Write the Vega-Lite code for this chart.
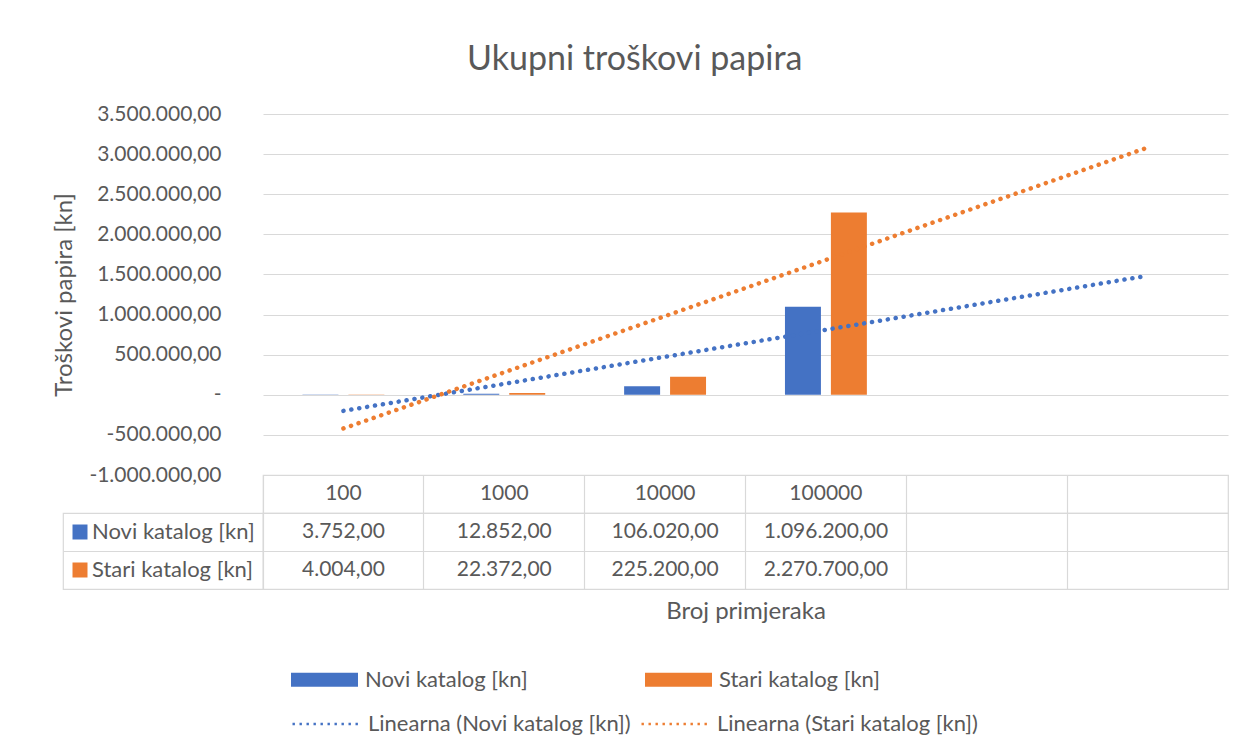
{
  "$schema": "https://vega.github.io/schema/vega-lite/v6.json",
  "background": "white",
  "padding": {"left": 52, "top": 43, "right": 17, "bottom": 5},
  "autosize": {"type": "pad"},
  "title": {"text": "Ukupni troškovi papira", "fontSize": 34, "fontWeight": "normal", "color": "#595959", "anchor": "middle", "frame": "bounds", "dx": -6, "offset": 26},
  "config": {
    "font": "Lato",
    "view": {"stroke": null},
    "locale": {"number": {"decimal": ",", "thousands": ".", "grouping": [3], "currency": ["", ""], "minus": "-"}}
  },
  "datasets": {
    "troskovi": [
      {"primjeraka": "100", "serija": "Novi katalog [kn]", "kn": 3752},
      {"primjeraka": "1000", "serija": "Novi katalog [kn]", "kn": 12852},
      {"primjeraka": "10000", "serija": "Novi katalog [kn]", "kn": 106020},
      {"primjeraka": "100000", "serija": "Novi katalog [kn]", "kn": 1096200},
      {"primjeraka": "100", "serija": "Stari katalog [kn]", "kn": 4004},
      {"primjeraka": "1000", "serija": "Stari katalog [kn]", "kn": 22372},
      {"primjeraka": "10000", "serija": "Stari katalog [kn]", "kn": 225200},
      {"primjeraka": "100000", "serija": "Stari katalog [kn]", "kn": 2270700}
    ],
    "trend": [
      {"primjeraka": "100", "serija": "Linearna (Novi katalog [kn])", "kn": -200871},
      {"primjeraka": "  ", "serija": "Linearna (Novi katalog [kn])", "kn": 1484385},
      {"primjeraka": "100", "serija": "Linearna (Stari katalog [kn])", "kn": -419868},
      {"primjeraka": "  ", "serija": "Linearna (Stari katalog [kn])", "kn": 3081590}
    ],
    "kategorije": [
      {"primjeraka": "100"},
      {"primjeraka": "1000"},
      {"primjeraka": "10000"},
      {"primjeraka": "100000"}
    ],
    "serije": [
      {"serija": "Novi katalog [kn]"},
      {"serija": "Stari katalog [kn]"}
    ]
  },
  "columns": 2,
  "spacing": 0,
  "bounds": "flush",
  "align": "each",
  "concat": [
    {
      "width": 200,
      "height": 361,
      "data": {"name": "kategorije"},
      "mark": {"type": "text", "text": ""}
    },
    {
      "width": 965,
      "height": 361,
      "layer": [
        {
          "data": {"name": "troskovi"},
          "mark": {"type": "bar"},
          "encoding": {
            "x": {"field": "primjeraka", "type": "nominal", "scale": {"type": "band", "domain": ["100", "1000", "10000", "100000", " ", "  "], "paddingInner": 0, "paddingOuter": 0}, "axis": null},
            "xOffset": {"field": "serija", "type": "nominal", "scale": {"type": "band", "domain": ["Novi katalog [kn]", "Stari katalog [kn]"], "paddingInner": 0.217, "paddingOuter": 0.859}},
            "y": {
              "field": "kn", "type": "quantitative",
              "scale": {"domain": [-1000000, 3500000], "nice": false, "zero": false},
              "axis": {
                "values": [-1000000, -500000, 0, 500000, 1000000, 1500000, 2000000, 2500000, 3000000, 3500000],
                "format": ",.2f",
                "labelExpr": "datum.value === 0 ? '-\u00a0\u00a0\u00a0' : datum.label",
                "title": "Troškovi papira [kn]",
                "grid": true, "gridColor": "#d9d9d9", "gridWidth": 1.2,
                "domain": false, "ticks": false, "tickSize": 0,
                "labelPadding": 42, "labelFontSize": 21, "labelColor": "#595959", "labelLimit": 300,
                "titleFontSize": 24, "titleFontWeight": "normal", "titleColor": "#595959", "titlePadding": 12
              }
            },
            "color": {
              "field": "serija", "type": "nominal",
              "scale": {"domain": ["Novi katalog [kn]", "Stari katalog [kn]"], "range": ["#4472C4", "#ED7D31"]},
              "legend": {
                "orient": "none", "legendX": 228, "legendY": 532,
                "direction": "horizontal", "columns": 2, "title": null,
                "labelFontSize": 22, "labelColor": "#595959", "labelLimit": 500,
                "symbolType": "M-1,-0.21H1V0.21H-1Z", "symbolSize": 4489, "symbolStrokeWidth": 0,
                "columnPadding": 117, "labelOffset": 7
              }
            }
          }
        },
        {
          "data": {"name": "trend"},
          "mark": {"type": "line", "strokeWidth": 4.5, "strokeCap": "round", "strokeDash": [0.1, 7.9]},
          "encoding": {
            "x": {"field": "primjeraka", "type": "nominal"},
            "y": {"field": "kn", "type": "quantitative"},
            "stroke": {
              "field": "serija", "type": "nominal",
              "scale": {"domain": ["Linearna (Novi katalog [kn])", "Linearna (Stari katalog [kn])"], "range": ["#4472C4", "#ED7D31"]},
              "legend": {
                "orient": "none", "legendX": 228, "legendY": 575,
                "direction": "horizontal", "columns": 2, "title": null,
                "labelFontSize": 22, "labelColor": "#595959", "labelLimit": 500,
                "symbolType": "stroke", "symbolSize": 4489, "symbolStrokeWidth": 2.6, "symbolDash": [2.4, 4.6],
                "columnPadding": 5, "labelOffset": 7
              }
            }
          }
        }
      ]
    },
    {
      "width": 200,
      "height": 38,
      "data": {"name": "kategorije"},
      "mark": {"type": "text", "text": ""}
    },
    {
      "width": 965,
      "height": 38,
      "view": {"stroke": "#d9d9d9", "strokeWidth": 1.2},
      "data": {"name": "kategorije"},
      "mark": {"type": "text", "fontSize": 21, "color": "#595959", "baseline": "middle"},
      "encoding": {
        "x": {
          "field": "primjeraka", "type": "nominal",
          "scale": {"type": "band", "domain": ["100", "1000", "10000", "100000", " ", "  "], "paddingInner": 0, "paddingOuter": 0},
          "axis": {"grid": true, "bandPosition": 0, "gridColor": "#d9d9d9", "gridWidth": 1.2, "labels": false, "ticks": false, "domain": false, "title": null}
        },
        "text": {"field": "primjeraka"}
      }
    },
    {
      "width": 200,
      "height": 76,
      "view": {"stroke": "#d9d9d9", "strokeWidth": 1.2},
      "data": {"name": "serije"},
      "encoding": {
        "y": {"field": "serija", "type": "nominal", "scale": {"type": "band", "domain": ["Novi katalog [kn]", "Stari katalog [kn]"], "paddingInner": 0, "paddingOuter": 0}, "axis": {"grid": true, "bandPosition": 0, "gridColor": "#d9d9d9", "gridWidth": 1.2, "labels": false, "ticks": false, "domain": false, "title": null}}
      },
      "layer": [
        {
          "mark": {"type": "point", "shape": "square", "filled": true, "size": 225, "opacity": 1, "xOffset": -12},
          "encoding": {
            "x": {"datum": "naziv", "type": "nominal", "bandPosition": 0, "scale": {"type": "band", "domain": ["naziv"], "paddingInner": 0, "paddingOuter": 1, "align": 0.2175}, "axis": null},
            "color": {"field": "serija", "type": "nominal", "legend": null}
          }
        },
        {
          "mark": {"type": "text", "align": "left", "baseline": "middle", "fontSize": 22, "color": "#595959"},
          "encoding": {
            "x": {"datum": "naziv", "type": "nominal", "bandPosition": 0},
            "text": {"field": "serija"}
          }
        }
      ]
    },
    {
      "width": 965,
      "height": 76,
      "view": {"stroke": "#d9d9d9", "strokeWidth": 1.2},
      "data": {"name": "troskovi"},
      "mark": {"type": "text", "fontSize": 21, "color": "#595959", "baseline": "middle"},
      "encoding": {
        "x": {
          "field": "primjeraka", "type": "nominal",
          "scale": {"type": "band", "domain": ["100", "1000", "10000", "100000", " ", "  "], "paddingInner": 0, "paddingOuter": 0},
          "axis": {"grid": true, "bandPosition": 0, "gridColor": "#d9d9d9", "gridWidth": 1.2, "labels": false, "ticks": false, "domain": false, "title": "Broj primjeraka", "titleFontSize": 24, "titleFontWeight": "normal", "titleColor": "#595959", "titlePadding": 10}
        },
        "y": {
          "field": "serija", "type": "nominal",
          "scale": {"type": "band", "domain": ["Novi katalog [kn]", "Stari katalog [kn]"], "paddingInner": 0, "paddingOuter": 0},
          "axis": {"grid": true, "bandPosition": 0, "gridColor": "#d9d9d9", "gridWidth": 1.2, "labels": false, "ticks": false, "domain": false, "title": null}
        },
        "text": {"field": "kn", "type": "quantitative", "format": ",.2f"}
      }
    }
  ]
}
